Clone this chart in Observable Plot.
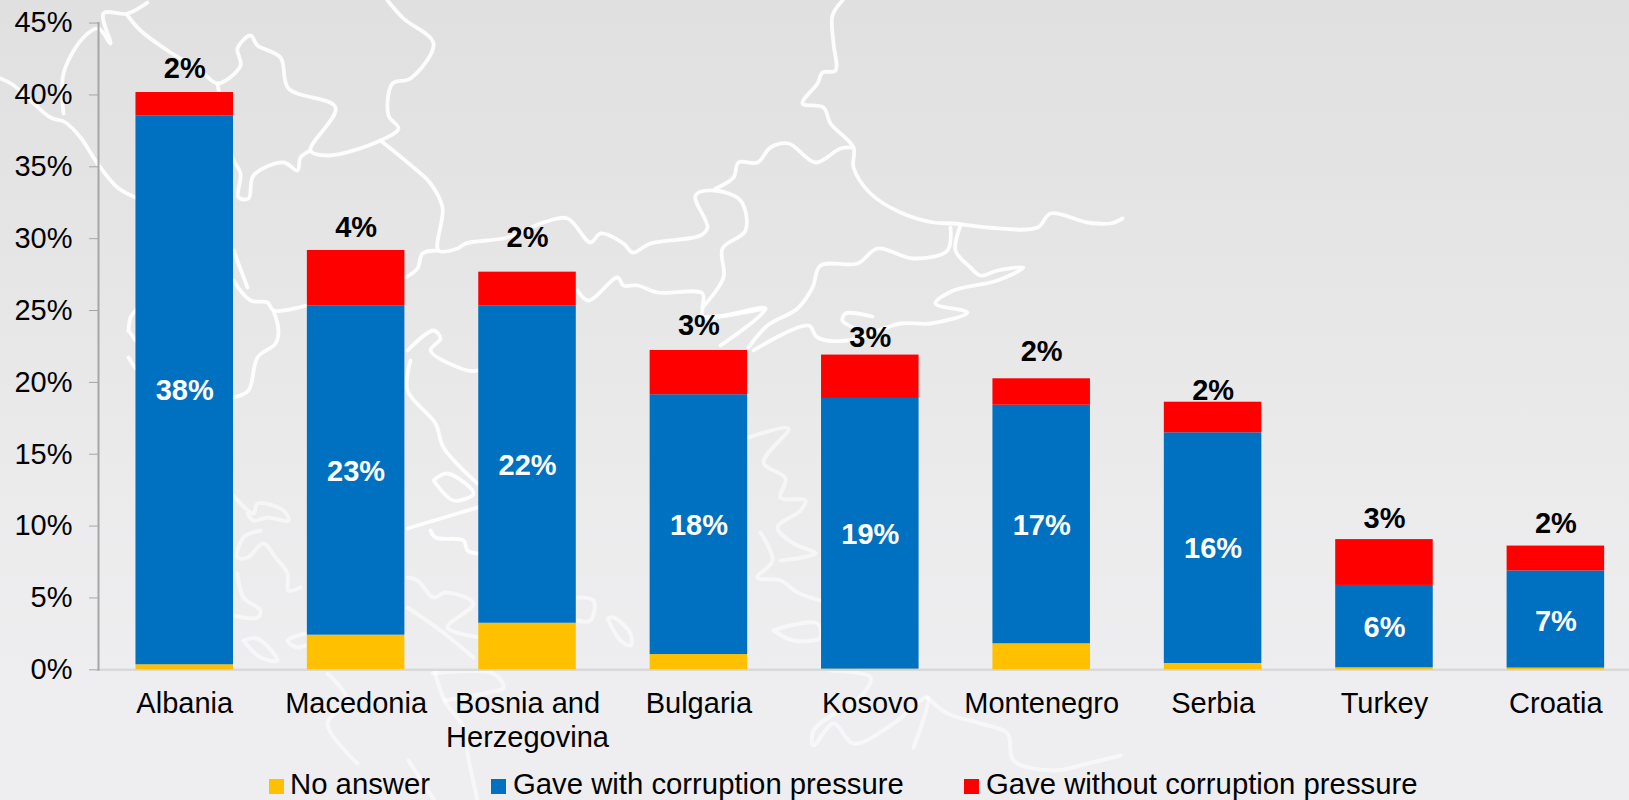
<!DOCTYPE html>
<html>
<head>
<meta charset="utf-8">
<script src="https://cdn.jsdelivr.net/npm/d3@7"></script>
<script src="https://cdn.jsdelivr.net/npm/@observablehq/plot@0.6"></script>
<style>
  html, body { margin: 0; padding: 0; }
  body { width: 1629px; height: 800px; overflow: hidden; font-family: "Liberation Sans", Arial, sans-serif; }
  #page { position: relative; width: 1629px; height: 800px; overflow: hidden;
    background: linear-gradient(to bottom, #e0e0e0 0%, #e6e6e7 35%, #ebebec 60%, #eeeef0 85%, #eeeef0 100%); }
  #map { position: absolute; left: 0; top: 0; filter: blur(0.6px); }
  #chart { position: absolute; left: 0; top: 0; }
  #legend { position: absolute; left: 0; top: 769px; width: 1629px; height: 30px; font-size: 29.3px; color: #000; white-space: nowrap; }
  .sw { position: absolute; top: 10px; width: 15px; height: 15px; }
  .lb { position: absolute; top: 0; line-height: 30px; }
</style>
</head>
<body>
<div id="page">
  <div id="map"></div>
  <div id="chart"></div>
  <div id="legend"></div>
</div>
<script>
const categories = ["Albania","Macedonia","Bosnia and\nHerzegovina","Bulgaria","Kosovo","Montenegro","Serbia","Turkey","Croatia"];
const seriesNames = ["No answer","Gave with corruption pressure","Gave without corruption pressure"];
const seriesColors = ["#FFC000","#0070C0","#FF0000"];
const noAnswer = [0.35,2.41,3.24,1.06,0.05,1.81,0.44,0.14,0.12];
const withPressure = [38.2,22.89,22.09,18.08,18.83,16.6,16.05,5.73,6.76];
const withoutPressure = [1.62,3.88,2.34,3.08,3.02,1.84,2.13,3.19,1.73];
const withLabels = ["38%","23%","22%","18%","19%","17%","16%","6%","7%"];
const withoutLabels = ["2%","4%","2%","3%","3%","2%","2%","3%","2%"];
const withLabelAt = [19.4,13.8,14.2,10.0,9.4,10.0,8.44,2.9,3.35];
const withoutLabelAt = [41.84,30.78,30.08,23.96,23.13,22.1,19.43,10.53,10.14];
const yTicks = [0,5,10,15,20,25,30,35,40,45];

// Background map outline, in its own map units
const mapUpper = [
  [[0,78],[12,84],[30,100],[50,117],[65,122],[80,137],[97,163],[117,187],[135,197]],
  [[63,113],[63,73],[83,37],[98,28],[110,43],[103,13],[127,13],[147,2]],
  [[127,15],[140,30],[167,50],[200,70],[217,83],[240,65],[237,48],[250,35],[257,45],[280,57],[288,88],[335,107],[310,150],[328,155],[380,140],[398,128],[388,115],[392,83],[410,78],[433,43],[403,18],[387,0]],
  [[217,83],[232,157],[240,173],[238,197],[248,198],[253,175],[283,162],[297,170],[300,157],[310,150]],
  [[380,140],[413,167],[430,183],[442,207],[438,250],[457,248],[465,243],[507,237],[543,222],[567,218],[590,242],[600,233],[623,243],[632,252],[650,243],[700,235],[707,227],[695,195],[713,190],[740,200],[745,230],[722,248],[723,277],[702,307]],
  [[438,250],[422,253],[417,268],[405,277]],
  [[577,290],[588,300],[617,277],[623,285],[637,285],[657,292],[702,293],[702,307],[703,317],[765,308],[720,345]],
  [[703,317],[733,314],[765,308]],
  [[748,347],[767,325],[797,308],[812,287],[820,265],[857,263],[877,248],[913,258],[947,250],[950,227]],
  [[842,0],[832,15],[833,43],[835,70],[822,72],[817,83],[802,103],[823,107],[830,123],[853,147],[853,167],[870,193],[900,212],[933,222],[953,223],[987,227],[1037,227],[1050,213],[1087,222],[1110,223],[1122,218]],
  [[853,147],[840,148],[815,162],[788,143],[770,147],[757,162],[738,162],[733,177],[715,188]],
  [[960,225],[955,250],[970,267],[980,275],[997,270],[1023,267],[997,280],[953,290],[935,303],[967,312],[930,323],[900,323],[847,340],[817,337],[808,325],[753,350]],
  [[872,316],[845,313],[842,320],[855,328]],
  [[233,250],[247,287]],
  [[233,280],[250,300],[267,302],[273,310],[306,305]],
  [[273,310],[278,330],[275,343],[257,357],[248,390],[233,397]],
  [[128,330],[130,317],[135,310]],
  [[135,340],[128,330]],
  [[128,357],[135,368]],
  [[407,350],[433,330],[440,338],[430,350],[467,370],[477,370]],
  [[410,360],[407,390],[435,423],[443,447],[477,483]],
  [[433,480],[447,473],[473,493],[453,500],[433,480]],
  [[407,528],[477,507]],
  [[430,530],[435,537],[463,540],[467,550],[477,553]]
];
const mapLower = [
  [[233,495],[253,513],[257,503],[283,510],[288,520],[267,517],[253,520],[247,513]],
  [[260,530],[243,537],[237,557],[247,557],[263,543],[275,557],[287,573],[288,590],[300,587]],
  [[237,573],[243,597],[260,610],[257,617],[233,615]],
  [[243,640],[260,657],[277,660],[257,638],[243,640]],
  [[305,633],[287,640],[297,647],[305,645]],
  [[407,577],[417,580],[433,597],[445,592],[473,603],[447,627],[480,637]],
  [[407,607],[440,630],[473,657]],
  [[577,597],[593,600],[590,620],[577,620]],
  [[607,618],[613,617],[630,633],[630,645],[620,640],[607,618]],
  [[748,437],[788,428],[763,462],[785,478],[780,497],[805,500],[800,510],[777,527],[793,543],[815,553],[780,560]],
  [[760,532],[772,560],[757,577],[780,580],[797,592],[820,600]],
  [[773,630],[790,625],[817,623],[820,637],[793,640],[773,630]],
  [[830,670],[870,677],[863,693],[813,730],[813,745],[833,723],[853,743],[893,723],[927,697],[913,747]],
  [[927,697],[947,713],[980,723],[1007,733],[1013,760],[1053,770],[1087,763],[1120,755]],
  [[327,673],[347,700],[327,723],[357,763]],
  [[434,670],[444,700],[463,727],[467,753],[477,800]],
  [[432,673],[493,673],[503,687],[483,693],[444,700]],
  [[408,760],[434,800]]
];

const rows = categories.flatMap((c, i) => [
  {cat: c, series: seriesNames[0], value: noAnswer[i]},
  {cat: c, series: seriesNames[1], value: withPressure[i]},
  {cat: c, series: seriesNames[2], value: withoutPressure[i]}
]);
const tableWith = categories.map((c, i) => ({cat: c, at: withLabelAt[i], text: withLabels[i]}));
const tableWithout = categories.map((c, i) => ({cat: c, at: withoutLabelAt[i], text: withoutLabels[i]}));
const flat = (lines, g) => lines.flatMap((l, k) => l.map(p => ({mx: p[0], my: p[1], k: g + k})));

const map = Plot.plot({
  width: 1629, height: 800, margin: 0,
  style: {background: "transparent"},
  x: {domain: [0, 1629], range: [0, 1629], axis: null},
  y: {domain: [0, 800], range: [0, 800], axis: null},
  marks: [
    Plot.line(flat(mapUpper, "u"), {x: "mx", y: "my", z: "k", stroke: "#fff", strokeWidth: 3.8, strokeOpacity: 0.9, curve: "catmull-rom"}),
    Plot.line(flat(mapLower, "l"), {x: "mx", y: "my", z: "k", stroke: "#fff", strokeWidth: 4, strokeOpacity: 0.55, curve: "catmull-rom"})
  ]
});
document.getElementById("map").append(map);

const chart = Plot.plot({
  width: 1629, height: 770,
  marginLeft: 98, marginRight: 0, marginTop: 22.6, marginBottom: 100.7,
  style: {background: "transparent", fontFamily: "'Liberation Sans', Arial, sans-serif", fontSize: "29px", color: "#000", overflow: "hidden"},
  x: {domain: categories, range: [61.6, 1678], padding: 0.431, align: 0.5, round: false, label: null},
  y: {domain: [0, 45], label: null},
  color: {domain: seriesNames, range: seriesColors},
  marks: [
    Plot.frame({anchor: "bottom", stroke: "#d9d9d9", strokeWidth: 2.5}),
    Plot.frame({anchor: "left", stroke: "#a6a6a6", strokeWidth: 2}),
    Plot.barY(rows, Plot.stackY({order: null}, {x: "cat", y: "value", fill: "series"})),
    Plot.axisY({ticks: yTicks, tickFormat: d => d + "%", tickSize: 9, tickPadding: 17, stroke: "#a6a6a6", fill: "#000", fontSize: 29, label: null}),
    Plot.axisX({tickSize: 0, tickPadding: 20, fontSize: 29, lineHeight: 1.15, fill: "#000", label: null, textOverflow: null}),
    Plot.text(tableWith, {x: "cat", y: "at", text: "text", fill: "#fff", fontWeight: "bold", fontSize: 29}),
    Plot.text(tableWithout, {x: "cat", y: "at", text: "text", fill: "#000", fontWeight: "bold", fontSize: 29})
  ]
});
document.getElementById("chart").append(chart);

const swatchLeft = [269, 491, 964];
const labelLeft = [290, 513, 986];
const legend = document.getElementById("legend");
seriesNames.forEach((name, i) => {
  const s = document.createElement("span");
  s.className = "sw"; s.style.left = swatchLeft[i] + "px"; s.style.background = seriesColors[i];
  const t = document.createElement("span");
  t.className = "lb"; t.style.left = labelLeft[i] + "px"; t.textContent = name;
  legend.append(s, t);
});
</script>
</body>
</html>
